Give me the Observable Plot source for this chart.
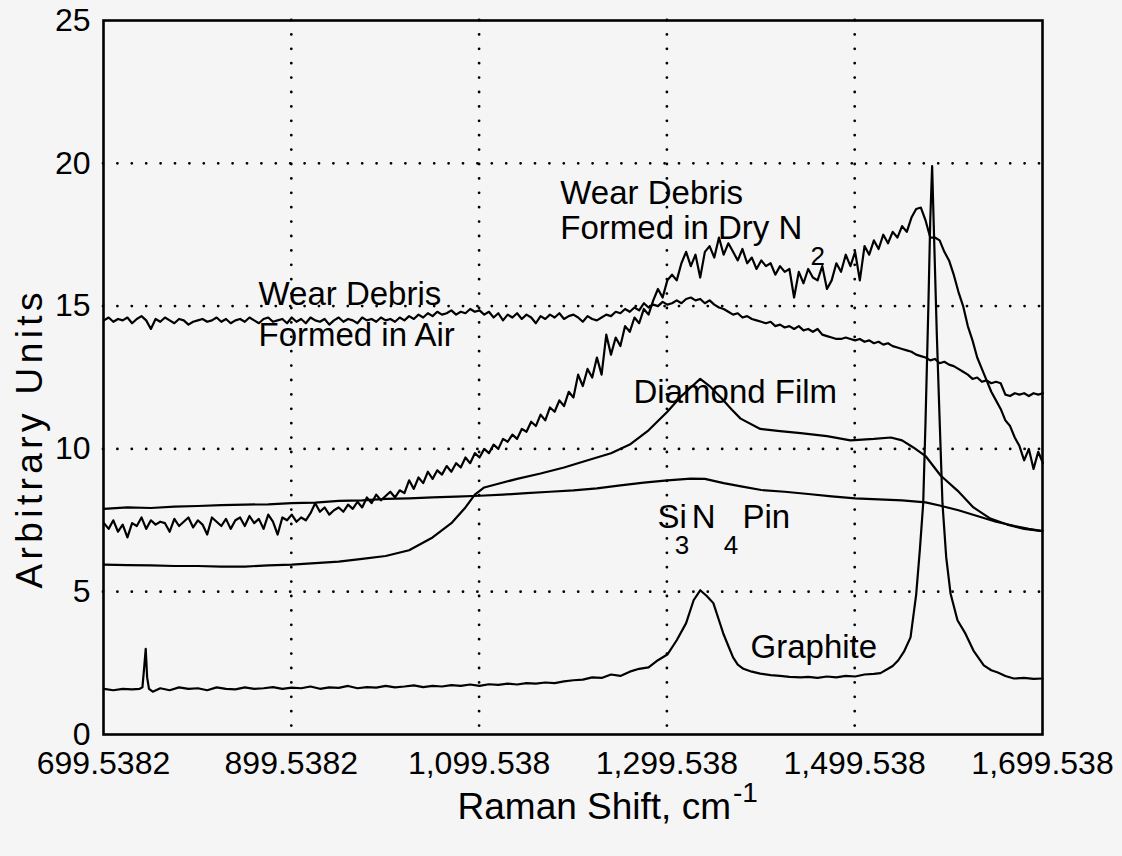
<!DOCTYPE html>
<html><head><meta charset="utf-8">
<script src="https://cdn.jsdelivr.net/npm/d3@7"></script>
<script src="https://cdn.jsdelivr.net/npm/@observablehq/plot@0.6"></script>
<style>
body{margin:0;background:#f5f5f5;}
svg{font-family:"Liberation Sans",Arial,sans-serif;}
</style>
</head><body><div id="chart"></div>
<script>
// ---- axes ----
const xTicks = [699.5382, 899.5382, 1099.538, 1299.538, 1499.538, 1699.538];
const xTickLabels = ["699.5382", "899.5382", "1,099.538", "1,299.538", "1,499.538", "1,699.538"];
const yTicks = [0, 5, 10, 15, 20, 25];
const xGridTicks = [899.5382, 1099.538, 1299.538, 1499.538];
const yGridTicks = [5, 10, 15, 20];

// ---- noisy spectra sampled every 5 cm-1 from 700 to 1700 ----
const sampledShift = d3.range(700, 1700.001, 5);
const dryN2Values = [
7.4,7.2,7.5,7.1,7.35,6.9,7.4,7.3,7.6,7.2,
7.5,7.35,7.45,7.4,7.1,7.55,7.3,7.45,7.6,7.25,
7.5,7.35,7.0,7.6,7.45,7.3,7.55,7.2,7.5,7.6,
7.3,7.65,7.4,7.55,7.2,7.7,7.45,7.0,7.6,7.5,
7.7,
7.45,7.6,7.5,7.75,8.1,7.8,7.95,7.7,7.85,7.95,
7.8,8.05,7.9,8.15,7.95,8.3,8.1,8.4,8.2,8.35,
8.5,8.3,8.55,8.45,8.9,8.6,9.0,8.8,9.2,8.95,
9.25,9.1,9.4,9.2,9.5,9.35,9.7,9.5,9.85,9.7,
10.0,9.85,10.15,10.0,10.35,10.25,10.5,10.35,10.7,10.6,
10.95,10.8,11.2,11.0,11.45,11.3,11.7,11.5,12.0,11.8,
12.6,12.2,12.8,12.5,13.2,12.6,14.0,13.3,13.9,13.6,
14.3,14.1,14.6,14.4,14.9,14.7,15.2,15.6,15.3,15.9,
16.1,15.9,16.5,16.9,16.4,16.8,16.0,16.9,17.1,16.7,
17.4,16.8,17.2,16.9,16.6,17.0,16.5,16.7,16.3,16.6,
16.4,16.5,16.1,16.4,16.2,16.3,15.3,16.2,15.8,16.3,
16.0,15.9,16.4,15.6,15.9,16.5,16.2,16.8,16.4,16.9,
15.9,17.1,16.8,17.3,17.0,17.5,17.2,17.6,17.4,17.8,
17.6,18.1,18.4,18.45,18.0,17.4,17.4,17.3,16.9,16.6,
16.1,15.5,15.0,14.3,13.8,13.2,12.8,12.4,12.0,11.7,
11.4,11.0,10.8,10.4,10.1,9.6,10.0,9.3,9.9,9.5
];
const airValues = [
14.5,14.6,14.45,14.55,14.5,14.6,14.4,14.55,14.65,14.5,
14.2,14.55,14.45,14.6,14.5,14.4,14.55,14.5,14.35,14.45,
14.5,14.55,14.45,14.5,14.6,14.45,14.55,14.4,14.5,14.55,
14.45,14.6,14.5,14.4,14.55,14.6,14.45,14.5,14.55,14.4,
14.6,
14.45,14.55,14.4,14.6,14.5,14.45,14.55,14.35,14.5,14.6,
14.45,14.55,14.5,14.4,14.6,14.5,14.55,14.45,14.6,14.5,
14.55,14.45,14.6,14.5,14.65,14.55,14.7,14.6,14.75,14.65,
14.8,14.7,14.75,14.85,14.7,14.8,14.75,14.9,14.8,14.85,
14.7,14.8,14.6,14.75,14.5,14.7,14.6,14.75,14.55,14.7,
14.6,14.4,14.65,14.55,14.7,14.6,14.75,14.55,14.65,14.7,
14.6,14.45,14.65,14.55,14.5,14.6,14.7,14.65,14.8,14.75,
14.9,14.8,14.95,14.85,15.1,14.95,15.05,15.0,15.15,15.05,
15.1,15.2,15.1,15.25,15.3,15.2,15.25,15.1,15.2,15.05,
14.95,14.9,14.8,14.7,14.75,14.6,14.65,14.55,14.5,14.45,
14.4,14.45,14.3,14.35,14.25,14.3,14.2,14.3,14.15,14.2,
14.1,14.2,14.0,13.95,13.9,13.85,13.85,13.9,13.85,13.8,
13.85,13.75,13.8,13.7,13.75,13.65,13.7,13.6,13.55,13.5,
13.45,13.4,13.3,13.25,13.2,13.1,13.15,13.0,13.05,12.95,
12.9,12.8,12.7,12.6,12.45,12.5,12.35,12.4,12.3,12.35,
12.3,11.9,11.85,11.95,11.9,11.95,11.85,11.95,11.9,11.95
];

// ---- smoother spectra ----
const diamondShift = [700,725,750,775,800,825,850,875,900,925,950,975,1000,1025,1050,1070,1085,1095,1105,1120,1140,1165,1190,1210,1240,1260,1280,1300,1315,1325,1335,1345,1357,1368,1378,1399,1420,1442,1470,1495,1520,1538,1550,1562,1575,1591,1609,1626,1644,1662,1680,1699.5];
const diamondValues = [5.95,5.93,5.92,5.9,5.9,5.88,5.88,5.92,5.95,6.0,6.05,6.15,6.25,6.45,6.9,7.4,7.95,8.4,8.65,8.78,8.95,9.14,9.35,9.55,9.85,10.15,10.65,11.3,11.85,12.15,12.45,12.2,11.8,11.4,11.06,10.7,10.62,10.55,10.45,10.3,10.35,10.4,10.3,10.05,9.75,9.07,8.54,7.95,7.56,7.35,7.2,7.12];
const pinShift = [700,725,750,775,800,825,850,875,900,925,950,975,1000,1025,1050,1075,1100,1125,1150,1175,1200,1225,1250,1275,1300,1325,1340,1360,1380,1400,1425,1450,1475,1500,1525,1550,1575,1590,1610,1630,1650,1670,1685,1699.5];
const pinValues = [7.9,7.95,7.93,7.98,8.0,8.03,8.05,8.06,8.1,8.12,8.18,8.2,8.25,8.27,8.3,8.33,8.36,8.4,8.45,8.5,8.55,8.62,8.72,8.82,8.9,8.96,8.95,8.8,8.68,8.56,8.5,8.42,8.34,8.27,8.23,8.2,8.13,8.02,7.85,7.65,7.45,7.3,7.2,7.12];
const graphiteShift = [700,710,720,730,738,741,743,744.5,746,748,752,760,770,780,790,800,810,820,830,840,850,860,870,880,890,900,910,920,930,940,950,960,970,980,990,1000,1010,1020,1030,1040,1050,1060,1070,1080,1090,1100,1110,1120,1130,1140,1150,1160,1170,1180,1190,1200,1210,1220,1230,1240,1250,1260,1270,1280,1290,1300,1310,1320,1328,1335,1342,1349,1355,1360,1365,1370,1375,1381,1390,1399,1410,1420,1430,1442,1450,1460,1470,1480,1490,1500,1510,1520,1527,1535,1540,1546,1552,1559,1565,1569,1572.5,1575,1578,1580,1582,1584,1587,1590,1593,1597,1601.6,1609,1617.5,1626,1637,1645,1652,1660,1669,1680,1690,1699.5];
const graphiteValues = [1.6,1.55,1.6,1.58,1.6,1.65,2.4,3.0,2.0,1.6,1.5,1.62,1.55,1.65,1.6,1.62,1.55,1.65,1.6,1.58,1.65,1.6,1.62,1.66,1.6,1.64,1.62,1.68,1.6,1.65,1.63,1.7,1.62,1.66,1.64,1.7,1.65,1.68,1.72,1.66,1.7,1.68,1.73,1.7,1.75,1.7,1.76,1.74,1.78,1.75,1.8,1.78,1.82,1.8,1.86,1.9,1.92,2.0,1.98,2.1,2.05,2.2,2.3,2.35,2.6,2.8,3.3,3.9,4.7,5.05,4.85,4.6,4.0,3.5,3.1,2.7,2.45,2.3,2.2,2.13,2.08,2.05,2.02,2.0,2.02,1.98,2.03,2.0,2.05,2.03,2.1,2.12,2.15,2.3,2.4,2.6,2.9,3.4,4.9,6.5,8.1,11.0,15.0,18.0,19.9,17.5,14.0,11.0,8.1,6.2,4.94,4.0,3.53,2.94,2.42,2.25,2.17,2.05,1.96,1.98,1.95,1.96];

// ---- annotation texts ----
const annotationText = ["Wear Debris", "Formed in Dry N", "Wear Debris", "Formed in Air", "Diamond Film", "Si", "N", "Pin", "Graphite"];
const annotationShift = [1186, 1186, 864.6, 864.6, 1264, 1289.5, 1326, 1380, 1388.6];
const annotationValue = [18.96, 17.71, 15.41, 13.97, 11.99, 7.6, 7.6, 7.6, 3.06];
const subscriptText = ["2", "3", "4"];
const subscriptShift = [1452.5, 1308, 1360];
const subscriptValue = [16.74, 6.62, 6.62];

const toPoints = (xs, ys) => ys.map((v, i) => ({x: xs[i], y: v}));
const series = [
  toPoints(sampledShift, dryN2Values),
  toPoints(sampledShift, airValues),
  toPoints(diamondShift, diamondValues),
  toPoints(pinShift, pinValues),
  toPoints(graphiteShift, graphiteValues)
];
const labelByTick = new Map(xTicks.map((t, i) => [t, xTickLabels[i]]));
const annotations = annotationText.map((t, i) => ({text: t, x: annotationShift[i], y: annotationValue[i]}));
const subscripts = subscriptText.map((t, i) => ({text: t, x: subscriptShift[i], y: subscriptValue[i]}));

const dots = {stroke: "#000", strokeOpacity: 1, strokeWidth: 2.8, strokeDasharray: "0,14.4", strokeLinecap: "round"};

const chart = Plot.plot({
  width: 1122, height: 856,
  marginLeft: 103, marginRight: 80, marginTop: 20, marginBottom: 122,
  style: {background: "#f5f5f5", fontFamily: "'Liberation Sans', Arial, sans-serif", color: "#000"},
  x: {domain: [699.5382, 1699.538]},
  y: {domain: [0, 25]},
  marks: [
    Plot.gridX(xGridTicks, dots),
    Plot.gridY(yGridTicks, dots),
    Plot.axisX(xTicks, {tickSize: 0, tickPadding: 17, tickFormat: d => labelByTick.get(d), fontSize: 32, label: null}),
    Plot.axisY(yTicks, {tickSize: 0, tickPadding: 13, fontSize: 32, label: null}),
    ...series.map(s => Plot.line(s, {x: "x", y: "y", stroke: "#000", strokeWidth: 2.2})),
    Plot.frame({stroke: "#000", strokeWidth: 2.6}),
    Plot.text(annotations, {x: "x", y: "y", text: "text", textAnchor: "start", fontSize: 33, fill: "#000"}),
    Plot.text(subscripts, {x: "x", y: "y", text: "text", textAnchor: "start", fontSize: 26, fill: "#000"}),
    Plot.text(["Arbitrary Units"], {text: d => d, frameAnchor: "left", textAnchor: "middle", rotate: -90, dx: -73, dy: 63, fontSize: 37, fill: "#000"}),
    Plot.text(["Raman Shift, cm"], {text: d => d, frameAnchor: "bottom", textAnchor: "end", dx: 158, dy: 84, fontSize: 37, fill: "#000"}),
    Plot.text(["-1"], {text: d => d, frameAnchor: "bottom", textAnchor: "start", dx: 160, dy: 67, fontSize: 28, fill: "#000"})
  ]
});
// stretch the rotated y title to the length it has in the reference
chart.querySelectorAll("text").forEach(t => {
  if (t.textContent === "Arbitrary Units") {
    t.setAttribute("textLength", "296");
    t.setAttribute("lengthAdjust", "spacing");
  }
});
document.getElementById("chart").appendChild(chart);
</script>
</body></html>
